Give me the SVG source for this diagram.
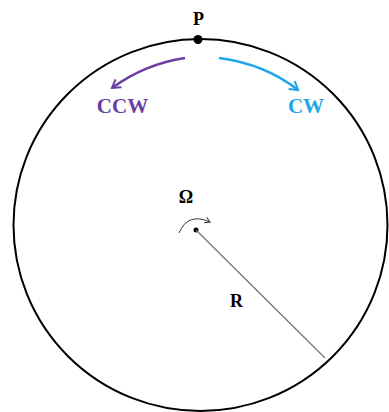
<svg xmlns="http://www.w3.org/2000/svg" width="389" height="412" viewBox="0 0 389 412">
<style>
.lbl{font-family:"Liberation Serif",serif;font-weight:bold;text-anchor:middle}
</style>
<defs>
<marker id="mp" markerWidth="12" markerHeight="12" refX="9" refY="6" orient="auto" markerUnits="userSpaceOnUse"><path d="M1,1 L9,6 L1,11" fill="none" stroke="#6a3ea1" stroke-width="2"/></marker>
<marker id="mb" markerWidth="12" markerHeight="12" refX="9" refY="6" orient="auto" markerUnits="userSpaceOnUse"><path d="M1,1 L9,6 L1,11" fill="none" stroke="#1fa6ea" stroke-width="2"/></marker>
<marker id="mk" markerWidth="8" markerHeight="8" refX="6" refY="4" orient="auto" markerUnits="userSpaceOnUse"><path d="M1,1 L6,4 L1,7" fill="none" stroke="#333" stroke-width="1"/></marker>
</defs>
<rect width="389" height="412" fill="#fff"/>
<g id="disk">
<ellipse cx="200.5" cy="225" rx="187" ry="186" fill="none" stroke="#000" stroke-width="2"/>
</g>
<g id="P">
<circle cx="198" cy="39.5" r="4.5" fill="#000"/>
<text class="lbl" x="198.5" y="25" font-size="18">P</text>
</g>
<g id="center">
<circle cx="196" cy="230" r="2.5" fill="#000"/>
<text class="lbl" x="186" y="203" font-size="18">Ω</text>
</g>
<g id="labels">
<text class="lbl" x="122.5" y="113" font-size="21" fill="#6a3ea1">CCW</text>
<text class="lbl" x="306" y="113" font-size="21" fill="#1fa6ea">CW</text>
<text class="lbl" x="236.5" y="307" font-size="18">R</text>
</g>
<g id="connectors">
<path d="M185,58 Q145,64 112,88" fill="none" stroke="#6a3ea1" stroke-width="2.5" marker-end="url(#mp)"/>
<path d="M219,58 Q265,64 298,90" fill="none" stroke="#1fa6ea" stroke-width="2.5" marker-end="url(#mb)"/>
<path d="M179,233 Q188,212 210,222" fill="none" stroke="#333" stroke-width="1" marker-end="url(#mk)"/>
<line x1="196" y1="230" x2="325" y2="358" stroke="#777" stroke-width="1.3"/>
</g>
</svg>
